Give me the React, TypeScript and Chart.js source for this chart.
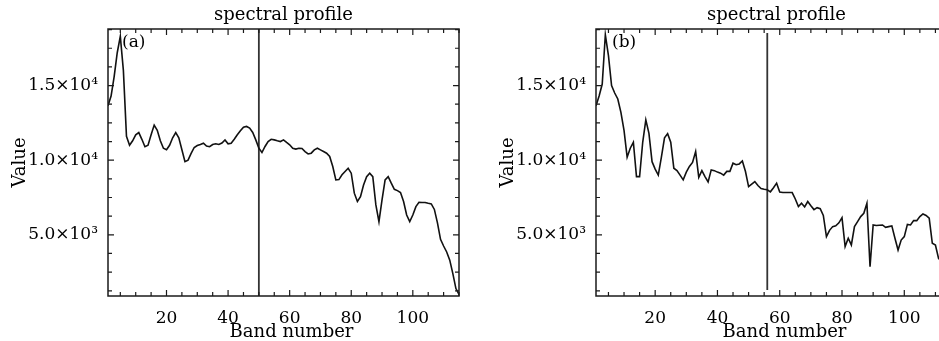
import React, { useEffect, useRef } from 'react';
import { Chart, registerables } from 'chart.js';

Chart.register(...registerables);

// ---- data ----
const spectrumA = [
  13650, 14300, 15600, 17200, 18300, 16000, 11600, 11000, 11300, 11700,
  11850, 11400, 10900, 11000, 11700, 12350, 12000, 11300, 10800, 10700,
  11000, 11500, 11850, 11500, 10700, 9900, 10000, 10450, 10850, 10980,
  11050, 11140, 10950, 10900, 11050, 11100, 11050, 11150, 11350, 11100,
  11140, 11400, 11700, 11970, 12210, 12260, 12150, 11860, 11360, 10800,
  10510, 10920, 11250, 11400, 11360, 11300, 11250, 11360, 11190, 11030,
  10800, 10740, 10800, 10780, 10580, 10420, 10470, 10690, 10800, 10690,
  10580, 10470, 10250, 9580, 8680, 8700, 9020, 9240, 9460, 9130,
  7790, 7230, 7560, 8340, 8900, 9130, 8900, 7000, 5880, 7340,
  8680, 8900, 8460, 8050, 7960, 7830, 7230, 6330, 5880, 6330,
  6890, 7180, 7160, 7160, 7110, 7070, 6700, 5800, 4700, 4250,
  3850, 3300, 2400, 1400, 1000,
];

const spectrumB = [
  13650, 14300, 15100, 18400, 17000, 15000, 14500, 14100, 13200, 12000,
  10200, 10800, 11200, 8900, 8900, 11200, 12700, 11800, 9900, 9400,
  9000, 10200, 11500, 11780, 11200, 9460, 9300, 9000, 8680, 9200,
  9580, 9850, 10580, 8850, 9300, 8900, 8550, 9350, 9300, 9200,
  9130, 9000, 9250, 9250, 9800, 9700, 9750, 9950, 9240, 8230,
  8400, 8570, 8300, 8100, 8050, 8020, 7880, 8150, 8460, 7870,
  7830, 7830, 7830, 7830, 7400, 6890, 7120, 6870, 7230, 6950,
  6690, 6820, 6750, 6300, 4880, 5300, 5550, 5600, 5800, 6150,
  4210, 4770, 4320, 5550, 5880, 6220, 6440, 7110, 2860, 5660,
  5620, 5640, 5660, 5500, 5550, 5600, 4770, 3980, 4650, 4880,
  5700, 5660, 5950, 5950, 6220, 6400, 6300, 6110, 4430, 4320,
  3420, 3200,
];

const markerBandA = 50;
const markerBandB = 56;
const markerSpanA = [900, 18790];
const markerSpanB = [1300, 18520];

const xTickBands = [5, 10, 15, 20, 25, 30, 35, 40, 45, 50, 55, 60, 65, 70, 75, 80, 85, 90, 95, 100, 105, 110, 115];
const xLabelBands = [20, 40, 60, 80, 100];
const yTickValues = [1250, 2500, 3750, 5000, 6250, 7500, 8750, 10000, 11250, 12500, 13750, 15000, 16250, 17500, 18750];
const yLabelValues = [5000, 10000, 15000];
const yLabelTexts = ['5.0×10³', '1.0×10⁴', '1.5×10⁴'];

const xRange = [1, 115];
const yRange = [900, 18790];

const chartTitle = 'spectral profile';
const xTitle = 'Band number';
const yTitle = 'Value';

const FONT = '"DejaVu Serif", serif';

const framePlugin = {
  id: 'frame',
  afterDraw(chart: any, _args: any, opts: any) {
    const { ctx, chartArea: a, scales } = chart;
    ctx.save();
    ctx.strokeStyle = '#1a1a1a';
    ctx.lineWidth = 1.5;
    ctx.strokeRect(a.left, a.top, a.right - a.left, a.bottom - a.top);
    ctx.lineWidth = 1.2;
    ctx.beginPath();
    for (const t of scales.x.ticks) {
      const px = scales.x.getPixelForValue(t.value);
      const len = xLabelBands.includes(t.value) ? 6 : 4;
      ctx.moveTo(px, a.bottom);
      ctx.lineTo(px, a.bottom - len);
      ctx.moveTo(px, a.top);
      ctx.lineTo(px, a.top + len);
    }
    for (const t of scales.y.ticks) {
      const py = scales.y.getPixelForValue(t.value);
      const len = yLabelValues.includes(t.value) ? 6 : 4;
      ctx.moveTo(a.left, py);
      ctx.lineTo(a.left + len, py);
      ctx.moveTo(a.right, py);
      ctx.lineTo(a.right - len, py);
    }
    ctx.stroke();
    ctx.fillStyle = '#000';
    ctx.font = '18px ' + FONT;
    ctx.textAlign = 'center';
    ctx.textBaseline = 'alphabetic';
    const cx = (a.left + a.right) / 2;
    ctx.fillText(chartTitle, cx + opts.topShift, 20);
    ctx.fillText(xTitle, cx + opts.titleShift, 337);
    ctx.font = '17px ' + FONT;
    ctx.textAlign = 'left';
    ctx.textBaseline = 'top';
    ctx.fillText(opts.tag, a.left + opts.tagDx, a.top + 5);
    ctx.restore();
  },
};

function Panel(props: {
  spectrum: number[];
  marker: number;
  span: number[];
  tag: string;
  tagDx: number;
  titleShift: number;
  topShift: number;
  plotWidth: number;
  left: number;
}) {
  const ref = useRef<HTMLCanvasElement>(null);
  const canvasWidth = 108 + props.plotWidth + 11;
  useEffect(() => {
    const points = props.spectrum.map((v, i) => ({ x: i + 1, y: v }));
    const chart = new Chart(ref.current!, {
      type: 'line',
      data: {
        datasets: [
          {
            data: points,
            borderColor: '#111',
            borderWidth: 1.6,
            pointRadius: 0,
            tension: 0,
          },
          {
            data: [
              { x: props.marker, y: props.span[0] },
              { x: props.marker, y: props.span[1] },
            ],
            borderColor: '#333',
            borderWidth: 1.8,
            pointRadius: 0,
          },
        ],
      },
      options: {
        animation: false,
        responsive: false,
        events: [],
        layout: { padding: { left: 0, right: 11, top: 29, bottom: 0 } },
        plugins: {
          legend: { display: false },
          tooltip: { enabled: false },
          title: { display: false },
          frame: { tag: props.tag, tagDx: props.tagDx, titleShift: props.titleShift, topShift: props.topShift },
        } as any,
        scales: {
          x: {
            type: 'linear',
            min: xRange[0],
            max: xRange[1],
            grid: { display: false },
            border: { display: false },
            afterBuildTicks: (s: any) => {
              s.ticks = xTickBands.map((v) => ({ value: v }));
            },
            afterFit: (s: any) => {
              s.height = 45;
            },
            ticks: {
              autoSkip: false,
              maxRotation: 0,
              padding: 4,
              color: '#000',
              font: { family: FONT, size: 17 },
              callback: (v: any) => (xLabelBands.includes(v) ? String(v) : ''),
            },
          },
          y: {
            type: 'linear',
            min: yRange[0],
            max: yRange[1],
            grid: { display: false },
            border: { display: false },
            afterBuildTicks: (s: any) => {
              s.ticks = yTickValues.map((v) => ({ value: v }));
            },
            afterFit: (s: any) => {
              s.width = 108;
            },
            title: {
              display: true,
              text: yTitle,
              color: '#000',
              font: { family: FONT, size: 18 },
              padding: { top: 10, bottom: 0 },
            },
            ticks: {
              autoSkip: false,
              padding: 2,
              color: '#000',
              font: { family: FONT, size: 17 },
              callback: (v: any) => {
                const i = yLabelValues.indexOf(v);
                return i >= 0 ? yLabelTexts[i] : '';
              },
            },
          },
        },
      },
      plugins: [framePlugin as any],
    });
    return () => chart.destroy();
  }, []);
  return (
    <canvas
      ref={ref}
      width={canvasWidth}
      height={341}
      style={{ position: 'absolute', left: props.left, top: 0, width: canvasWidth, height: 341 }}
    />
  );
}

export default function App() {
  return (
    <div
      style={{
        position: 'fixed',
        left: 0,
        top: 0,
        width: 939,
        height: 341,
        overflow: 'hidden',
        background: '#fff',
      }}
    >
      <Panel spectrum={spectrumA} marker={markerBandA} span={markerSpanA} tag="(a)" tagDx={14} titleShift={8} topShift={0} plotWidth={351} left={0} />
      <Panel spectrum={spectrumB} marker={markerBandB} span={markerSpanB} tag="(b)" tagDx={16} titleShift={11} topShift={3} plotWidth={355} left={488} />
    </div>
  );
}
